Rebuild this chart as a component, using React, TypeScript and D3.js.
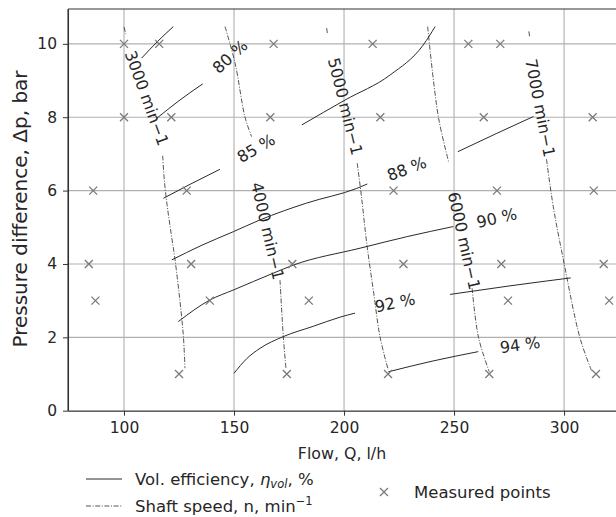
import { useEffect, useRef } from "react";
import * as d3 from "d3";

// axis ticks
const xTicks = [100, 150, 200, 250, 300];
const yTicks = [0, 2, 4, 6, 8, 10];

// measured points [Q l/h, dp bar]
const measuredPoints = [
  [100, 10], [116, 10], [168, 10], [213, 10], [256.5, 10], [271, 10],
  [100, 8], [121.5, 8], [166.5, 8], [216.5, 8], [263.5, 8], [313, 8],
  [86, 6], [128.5, 6], [222.5, 6], [269.5, 6], [313.5, 6],
  [84, 4], [130.5, 4], [176.5, 4], [227, 4], [271.5, 4], [318, 4],
  [87, 3], [139, 3], [184, 3], [274.5, 3], [320.5, 3],
  [125, 1], [174, 1], [220, 1], [266, 1], [314.5, 1],
];

// shaft speed lines, broken where the labels sit
const speed3000 = [
  [[100, 10.46], [100.8, 10.27]],
  [[117.6, 6.95], [118.3, 6.3], [119.6, 5.6], [121.5, 4.8], [123.2, 4.11], [125.4, 3.0], [127, 2.02], [127.7, 1.16]],
];
const speed4000 = [
  [[145.9, 10.47], [150.5, 9.47], [155, 8.0], [158, 7.47]],
  [[170.9, 3.56], [172.4, 2.02], [173.6, 1.16]],
];
const speed5000 = [
  [[192.1, 10.43], [192.5, 10.25]],
  [[206, 6.75], [208, 5.8], [210.3, 4.57], [213.5, 3.2], [216.4, 2.0], [220.1, 1.11]],
];
const speed6000 = [
  [[238, 10.47], [242.9, 8.0], [247.7, 6.75]],
  [[258.2, 3.34], [261.1, 2.0], [266, 1.06]],
];
const speed7000 = [
  [[284, 10.34], [284.3, 10.2]],
  [[292, 6.86], [295.1, 5.56], [299.7, 4.11], [307.3, 1.97], [312.7, 1.06]],
];
const speedLines = [speed3000, speed4000, speed5000, speed6000, speed7000];

// label: [Q, dp, angle, text]
const speedLabels = [
  [110.3, 8.52, 70, "3000 min\u22121"],
  [165.2, 4.9, 77, "4000 min\u22121"],
  [200.5, 8.29, 76, "5000 min\u22121"],
  [254.5, 4.63, 77.5, "6000 min\u22121"],
  [289.1, 8.25, 79, "7000 min\u22121"],
];

// volumetric efficiency contours
const eff75 = [[[108, 9.61], [115, 10.05], [122.4, 10.47]]];
const eff80 = [[[114.9, 7.97], [125, 8.45], [135.8, 8.91]]];
const eff85 = [
  [[117.9, 5.79], [130, 6.17], [143.6, 6.58]],
  [[180.8, 7.79], [200.5, 8.47], [220.9, 9.15], [236, 9.97], [241.4, 10.47]],
];
const eff88 = [
  [[121.7, 4.11], [135, 4.5], [149.7, 4.88], [161.8, 5.2], [183, 5.66], [205.8, 6.06], [210.6, 6.18]],
  [[251.7, 7.06], [269.4, 7.56], [286.1, 8.02]],
];
const eff90 = [
  [[124.7, 2.43], [139.1, 3.02], [149.7, 3.29], [167.9, 3.75], [177, 3.97], [207.3, 4.43], [229, 4.75], [249.7, 5.02]],
];
const eff92 = [
  [[150, 1.02], [155.8, 1.42], [161.8, 1.7], [172.4, 2.02], [186, 2.3], [198.2, 2.55], [205, 2.66]],
  [[248.2, 3.17], [275, 3.4], [303, 3.62]],
];
const eff94 = [[[220.1, 1.06], [240, 1.35], [261, 1.61]]];
const effLines = [eff75, eff80, eff85, eff88, eff90, eff92, eff94];

const effLabels = [
  [148.2, 9.65, -42, "80 %"],
  [160, 7.15, -30, "85 %"],
  [228.5, 6.59, -21, "88 %"],
  [269.4, 5.25, -12.6, "90 %"],
  [223.2, 2.94, -12, "92 %"],
  [280, 1.79, -7.6, "94 %"],
];

const W = 616;
const H = 517;
const FONT = "'DejaVu Sans', sans-serif";
const INK = "#262626";

const App = () => {
  const svgRef = useRef();

  useEffect(() => {
    const svg = d3.select(svgRef.current);
    svg.selectAll("*").remove();

    const left = 68, top = 9, bottom = 410.7, right = W;
    const x = d3.scaleLinear().domain([74.55, 323.6]).range([left, right]);
    const y = d3.scaleLinear().domain([0, 10.95]).range([bottom, top]);

    svg.append("defs").append("clipPath").attr("id", "plot")
      .append("rect").attr("x", left).attr("y", top)
      .attr("width", right - left).attr("height", bottom - top);

    // grid
    const grid = svg.append("g").attr("stroke", "#b0b0b0").attr("stroke-width", 1.1);
    grid.selectAll("line.v").data(xTicks).enter().append("line")
      .attr("x1", (d) => x(d)).attr("x2", (d) => x(d))
      .attr("y1", top).attr("y2", bottom);
    grid.selectAll("line.h").data(yTicks).enter().append("line")
      .attr("x1", left).attr("x2", right)
      .attr("y1", (d) => y(d)).attr("y2", (d) => y(d));

    const plot = svg.append("g").attr("clip-path", "url(#plot)");
    const effLine = d3.line().x((d) => x(d[0])).y((d) => y(d[1])).curve(d3.curveMonotoneX);
    const spdLine = d3.line().x((d) => x(d[0])).y((d) => y(d[1])).curve(d3.curveCatmullRom);

    // efficiency contours
    effLines.forEach((segs) => {
      plot.selectAll(null).data(segs).enter().append("path")
        .attr("d", effLine).attr("fill", "none")
        .attr("stroke", "#2a2a2a").attr("stroke-width", 1);
    });

    // speed lines
    speedLines.forEach((segs) => {
      plot.selectAll(null).data(segs).enter().append("path")
        .attr("d", spdLine).attr("fill", "none")
        .attr("stroke", "#2a2a2a").attr("stroke-width", 0.8)
        .attr("stroke-dasharray", "5,1.6,1,1.6");
    });

    // measured points
    const cross = (g, cx, cy, r) => {
      g.append("path")
        .attr("d", `M${cx - r},${cy - r}L${cx + r},${cy + r}M${cx - r},${cy + r}L${cx + r},${cy - r}`)
        .attr("stroke", "#7a7a7a").attr("stroke-width", 1.3).attr("fill", "none");
    };
    measuredPoints.forEach((d) => cross(plot, x(d[0]), y(d[1]), 4));

    // contour labels
    const labels = [...speedLabels, ...effLabels];
    plot.selectAll("text.lbl").data(labels).enter().append("text")
      .attr("transform", (d) => `translate(${x(d[0])},${y(d[1])}) rotate(${d[2]})`)
      .attr("text-anchor", "middle").attr("dominant-baseline", "central")
      .attr("font-family", FONT).attr("font-size", 16).attr("fill", INK)
      .text((d) => d[3]);

    // axes
    const xAxis = svg.append("g").attr("transform", `translate(0,${bottom})`)
      .call(d3.axisBottom(x).tickValues(xTicks).tickSize(5).tickSizeOuter(0).tickPadding(6));
    const yAxis = svg.append("g").attr("transform", `translate(${left},0)`)
      .call(d3.axisLeft(y).tickValues(yTicks).tickSize(5).tickSizeOuter(0).tickPadding(6));
    [xAxis, yAxis].forEach((a) => {
      a.select(".domain").attr("stroke", "#333").attr("stroke-width", 1.1);
      a.selectAll(".tick line").attr("stroke", "#333");
      a.selectAll(".tick text").attr("font-family", FONT).attr("font-size", 15.5).attr("fill", INK);
    });
    svg.append("line").attr("x1", left).attr("x2", right).attr("y1", top).attr("y2", top)
      .attr("stroke", "#333").attr("stroke-width", 1.1);
    svg.append("line").attr("x1", left).attr("x2", left).attr("y1", top).attr("y2", bottom)
      .attr("stroke", "#333").attr("stroke-width", 1.1);

    // axis titles
    svg.append("text").attr("x", (left + right) / 2).attr("y", 459).attr("text-anchor", "middle")
      .attr("font-family", FONT).attr("font-size", 15.8).attr("fill", INK)
      .text("Flow, Q, l/h");
    svg.append("text").attr("transform", `translate(27,209) rotate(-90)`)
      .attr("text-anchor", "middle")
      .attr("font-family", FONT).attr("font-size", 20).attr("fill", INK)
      .text("Pressure difference, \u0394p, bar");

    // legend
    const lg = svg.append("g").attr("font-family", FONT).attr("font-size", 16.5).attr("fill", INK);
    lg.append("line").attr("x1", 86).attr("x2", 122).attr("y1", 479).attr("y2", 479)
      .attr("stroke", "#2a2a2a").attr("stroke-width", 1);
    const t1 = lg.append("text").attr("x", 135).attr("y", 485);
    t1.append("tspan").text("Vol. efficiency, ");
    t1.append("tspan").attr("font-style", "italic").text("\u03b7");
    t1.append("tspan").attr("font-style", "italic").attr("font-size", 11.5).attr("dy", 3).text("vol");
    t1.append("tspan").attr("dy", -3).text(", %");
    lg.append("line").attr("x1", 86).attr("x2", 122).attr("y1", 506).attr("y2", 506)
      .attr("stroke", "#2a2a2a").attr("stroke-width", 0.8).attr("stroke-dasharray", "5,1.6,1,1.6");
    const t2 = lg.append("text").attr("x", 135).attr("y", 512);
    t2.append("tspan").text("Shaft speed, n, min");
    t2.append("tspan").attr("font-size", 11.5).attr("dy", -7).text("\u22121");
    cross(lg, 384, 492, 4);
    lg.append("text").attr("x", 414).attr("y", 498).text("Measured points");
  }, []);

  return (
    <svg ref={svgRef} width={W} height={H}
      style={{ position: "absolute", left: 0, top: 0, background: "#fff" }} />
  );
};

export default App;
